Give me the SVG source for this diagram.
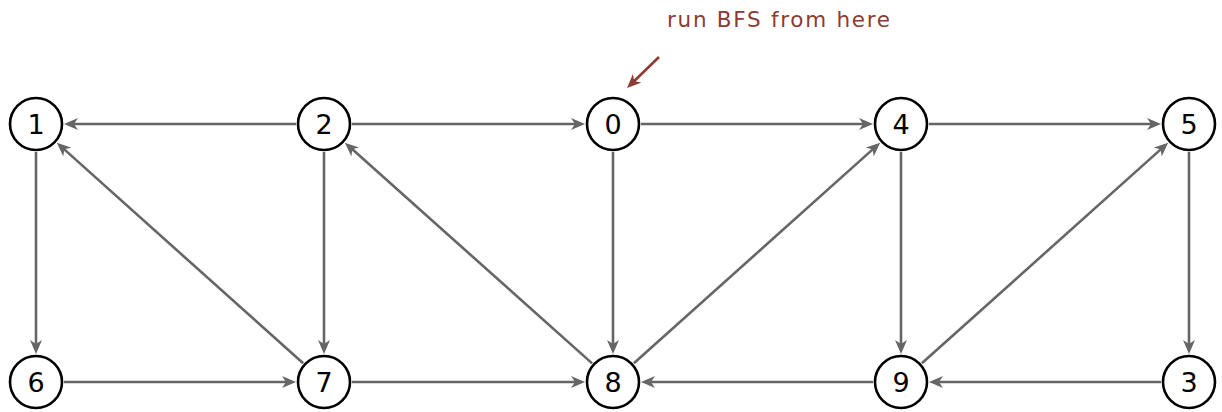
<svg xmlns="http://www.w3.org/2000/svg" width="1222" height="412" viewBox="0 0 1222 412">
  <style>
    .node circle { fill: #fff; stroke: #000; stroke-width: 2.6; }
    .node text { font-family: "DejaVu Sans", "Liberation Sans", sans-serif; font-size: 27px; text-anchor: middle; fill: #000; }
    .edge { stroke: #666; stroke-width: 2.6; fill: none; marker-end: url(#arrow); }
    .note { font-family: "DejaVu Sans", "Liberation Sans", sans-serif; font-size: 21.5px; fill: #8e3b33; }
  </style>
  <defs>
    <marker id="arrow" viewBox="0 0 14 12" refX="10" refY="6" markerWidth="14" markerHeight="12" markerUnits="userSpaceOnUse" orient="auto">
      <path d="M0,0 L14,6 L0,12 L4,6 z" fill="#666"/>
    </marker>
    <marker id="arrow-red" viewBox="0 0 14 12" refX="10" refY="6" markerWidth="14" markerHeight="12" markerUnits="userSpaceOnUse" orient="auto">
      <path d="M0,0 L14,6 L0,12 L4,6 z" fill="#8e3b33"/>
    </marker>
  </defs>

  <!-- directed edges -->
  <g id="edges">
    <line class="edge" x1="296" y1="124" x2="68" y2="124"/>
    <line class="edge" x1="352" y1="124" x2="581" y2="124"/>
    <line class="edge" x1="641" y1="124" x2="869" y2="124"/>
    <line class="edge" x1="929" y1="124" x2="1157" y2="124"/>
    <line class="edge" x1="64" y1="382" x2="292" y2="382"/>
    <line class="edge" x1="352" y1="382" x2="581" y2="382"/>
    <line class="edge" x1="873" y1="382" x2="645" y2="382"/>
    <line class="edge" x1="1161" y1="382" x2="933" y2="382"/>
    <line class="edge" x1="36" y1="152" x2="36" y2="350"/>
    <line class="edge" x1="324" y1="152" x2="324" y2="350"/>
    <line class="edge" x1="613" y1="152" x2="613" y2="350"/>
    <line class="edge" x1="901" y1="152" x2="901" y2="350"/>
    <line class="edge" x1="1189" y1="152" x2="1189" y2="350"/>
    <line class="edge" x1="303.15" y1="363.32" x2="59.83" y2="145.35"/>
    <line class="edge" x1="592.11" y1="363.35" x2="347.87" y2="145.31"/>
    <line class="edge" x1="633.85" y1="363.32" x2="877.17" y2="145.35"/>
    <line class="edge" x1="921.85" y1="363.32" x2="1165.17" y2="145.35"/>
  </g>

  <g id="node-0" class="node"><circle cx="613" cy="124" r="26"/><text x="613" y="134">0</text></g>
  <g id="node-1" class="node"><circle cx="36" cy="124" r="26"/><text x="36" y="134">1</text></g>
  <g id="node-2" class="node"><circle cx="324" cy="124" r="26"/><text x="324" y="134">2</text></g>
  <g id="node-3" class="node"><circle cx="1189" cy="382" r="26"/><text x="1189" y="392">3</text></g>
  <g id="node-4" class="node"><circle cx="901" cy="124" r="26"/><text x="901" y="134">4</text></g>
  <g id="node-5" class="node"><circle cx="1189" cy="124" r="26"/><text x="1189" y="134">5</text></g>
  <g id="node-6" class="node"><circle cx="36" cy="382" r="26"/><text x="36" y="392">6</text></g>
  <g id="node-7" class="node"><circle cx="324" cy="382" r="26"/><text x="324" y="392">7</text></g>
  <g id="node-8" class="node"><circle cx="613" cy="382" r="26"/><text x="613" y="392">8</text></g>
  <g id="node-9" class="node"><circle cx="901" cy="382" r="26"/><text x="901" y="392">9</text></g>

  <!-- start marker -->
  <g id="start-note">
    <text class="note" x="667" y="27" textLength="223" lengthAdjust="spacing">run BFS from here</text>
    <line x1="659" y1="57" x2="629.9" y2="85.3" stroke="#8e3b33" stroke-width="2.6" marker-end="url(#arrow-red)"/>
  </g>
</svg>
